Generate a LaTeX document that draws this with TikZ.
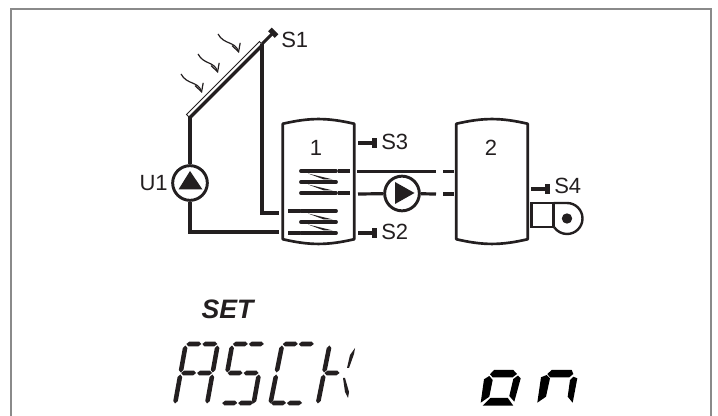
\documentclass[tikz,border=0pt]{standalone}
\usepackage{fontspec}
\setmainfont{Liberation Sans}
\usetikzlibrary{arrows.meta}
\definecolor{ink}{HTML}{231F20}
\definecolor{framegray}{HTML}{8A8A8A}
% thin LCD segments, in pixels of the digit cell
\newcommand{\hseg}[3]{\fill[ink] ({#1-.5},#3) -- ({#1+2},{#3-2.3}) -- ({#2-2},{#3-2.3}) -- ({#2+.5},#3) -- ({#2-2},{#3+2.3}) -- ({#1+2},{#3+2.3}) -- cycle;}
\newcommand{\vseg}[3]{\fill[ink] (#1,{#2-.5}) -- ({#1+2.3},{#2+2}) -- ({#1+2.3},{#3-2}) -- (#1,{#3+.5}) -- ({#1-2.3},{#3-2}) -- ({#1-2.3},{#2+2}) -- cycle;}
\newcommand{\tankline}[1]{\draw[tank] (#1.north west) to[bend left=13] (#1.north east) -- (#1.south east) to[bend left=13] (#1.south west) -- cycle;}
\newcommand{\coil}[1]{% top line y
  \foreach \k in {0,11,22} \draw[coilline] (301,{#1+\k}) -- (336,{#1+\k});
  \foreach \k in {0,11} \fill[ink] (308,{#1+2.5+\k}) -- (333,{#1+8.5+\k}) -- (324,{#1+8.5+\k}) -- cycle;}
\begin{document}
\begin{tikzpicture}[x=0.75pt,y=-0.75pt,
  tank/.style={draw=ink, line width=2pt, line join=round},
  tankbox/.style={minimum width=53.2pt, minimum height=86.2pt, inner sep=0pt},
  pipe/.style={draw=ink, line width=2.4pt},
  pumpc/.style={circle, draw=ink, line width=2.2pt, fill=white, minimum size=26pt, inner sep=0pt},
  coilline/.style={draw=ink, line width=2.9pt, line cap=round},
  coilstub/.style={draw=ink, line width=2.4pt},
  sensor/.style={draw=ink, line width=2.3pt, -{Rectangle[length=3.8pt,width=7pt]}},
  ray/.style={draw=ink, line width=0.9pt, -{Straight Barb[length=6pt,width=6.5pt]}},
  lab/.style={font=\fontsize{16.5}{18}\selectfont, text=ink, inner sep=0pt}]
\useasboundingbox (0,0) rectangle (718,416);
\draw[framegray, line width=1.5pt] (11,416) -- (11,9.5) -- (711,9.5) -- (711,416);
% collector
\coordinate (cb) at (190,116);
\coordinate (ct) at (262,44);
\draw[ink, line width=.6pt, fill=white] (186.5,114.5) -- (259.5,41.5) -- (262.5,45.5) -- (190,118) -- cycle;
\draw[ink, line width=2.4pt, line cap=round] (190,117.5) -- (262,45.5);
\foreach \xa/\ya/\xb/\yb/\xc/\yc/\xd/\yd in {218/34/224/45/235/41/239/53, 198/54/204/65/214/61/218/73, 181/74/187/85/198/81/202/93}
  \draw[ray] (\xa,\ya) .. controls (\xb,\yb) and (\xc,\yc) .. (\xd,\yd);
\coordinate (s1a) at (262,44);
\coordinate (s1b) at (275,31);
\draw[sensor] (s1a) -- (s1b);
\node[lab, anchor=west] (s1) at (281,40) {S1};
% tanks
\node[tankbox] (tank1) at (318.5,181.5) {};
\node[tankbox] (tank2) at (492,181.5) {};
\tankline{tank1}
\tankline{tank2}
\node[lab] (n1) at (316,148) {1};
\node[lab] (n2) at (491,148) {2};
% pumps
\node[pumpc] (pump1) at (190,183) {};
\node[pumpc] (pump2) at (402,193.5) {};
\fill[ink] (190,171) -- (202.5,189.5) -- (178.5,189.5) -- cycle;
\fill[ink] (414.5,193) -- (395,182) -- (395,204) -- cycle;
\node[lab, anchor=east] (u1) at (168,183) {U1};
% solar loop
\coordinate (in1) at (279,213);
\coordinate (in2) at (279,232);
\draw[pipe] (cb) -- (pump1);
\draw[pipe] (pump1) |- (in2);
\draw[pipe] (ct) |- (in1);
% coils
\coil{171}
\coil{211}
\foreach \y in {171,193} \draw[coilstub] (338,\y) -- (350,\y);
\foreach \y in {211,233} \draw[coilstub] (288,\y) -- (300,\y);
% secondary loop
\coordinate (la) at (357,171.5);
\coordinate (lb) at (436,171.5);
\coordinate (lc) at (358,194);
\coordinate (ld) at (436,194);
\draw[pipe] (la) -- (lb);
\draw[pipe] (lc) -- (pump2);
\draw[pipe] (pump2) -- (ld);
\draw[pipe] (443,171.5) -- (454,171.5);
\draw[pipe] (443,194) -- (454,194);
% sensors
\draw[sensor] (358,143) -- (377,143);
\node[lab, anchor=west] (s3) at (381,142) {S3};
\draw[sensor] (358,233) -- (377,233);
\node[lab, anchor=west] (s2) at (381,232) {S2};
\draw[sensor] (531,189) -- (550,189);
\node[lab, anchor=west] (s4) at (554,186) {S4};
% boiler
\draw[ink, line width=1.8pt] (553.5,203) -- (531.5,203) -- (531.5,227) -- (553.5,227);
\draw[ink, line width=1.8pt] (553.5,203) -- (553.5,227);
\draw[ink, line width=1.8pt] (553.5,203) -- (567,203) arc[start angle=-90, end angle=145, radius=15.5];
\fill[ink] (567,218.5) circle[radius=5.2];
% SET
\node[font=\fontsize{20}{22}\selectfont\bfseries\itshape, text=ink, inner sep=0pt] (setlab) at (227.5,309) {SET};
% thin LCD text
\begin{scope}[shift={(186,343)},xslant=.18]% A
  \hseg{1}{15}{1} \hseg{17}{31}{1} \hseg{1}{15}{30} \hseg{17}{31}{30} \vseg{0}{3}{29} \vseg{32}{3}{29} \vseg{0}{32}{60} \vseg{32}{32}{60}
\end{scope}
\begin{scope}[shift={(232.5,343)},xslant=.18]% S
  \hseg{1}{15}{1} \hseg{17}{31}{1} \hseg{1}{15}{30} \hseg{17}{31}{30} \vseg{0}{3}{29} \vseg{32}{32}{60} \hseg{1}{15}{60} \hseg{17}{31}{60}
\end{scope}
\begin{scope}[shift={(282.5,343)},xslant=.2]% C
  \hseg{1}{15}{1} \hseg{17}{31}{1} \vseg{0}{3}{29} \vseg{0}{32}{60} \hseg{1}{15}{60} \hseg{17}{31}{60}
\end{scope}
\begin{scope}[shift={(330,343)},xslant=.2]% K
  \vseg{0}{3}{29} \vseg{0}{32}{60} \hseg{1}{15}{30}
\end{scope}
\fill[ink] (355,348) -- (354,354) -- (349,368) -- (347,368) -- (350,355) -- cycle;
\fill[ink] (343,378) -- (345,378) -- (349,392) -- (348,398) -- (345,392) -- cycle;
% bold LCD text
\fill (494,370) -- (513.3,370) -- (517,374) -- (512.7,377.3) -- (492.7,377.3) -- (490,374.3) -- cycle;
\fill (484,379.3) -- (489.3,376) -- (492.7,380) -- (489.3,396.7) -- (480.7,402.7) -- cycle;
\fill (520.7,378.3) -- (518,375.5) -- (513.3,379) -- (509.3,396) -- (514.3,401.7) -- cycle;
\fill (482.7,405.7) -- (513.3,405.7) -- (507.7,397.8) -- (490.7,397.8) -- cycle;
\fill (547.3,374) -- (551.7,370) -- (571.7,370) -- (573.3,374) -- (569.3,377.3) -- (550,377.3) -- cycle;
\fill (541,377.3) -- (546.7,375) -- (550,378.3) -- (546,396.7) -- (537.3,402.7) -- cycle;
\fill (577.3,378.3) -- (573.3,376.7) -- (570,380) -- (567.7,396.7) -- (572.7,402.7) -- cycle;
\end{tikzpicture}
\end{document}
